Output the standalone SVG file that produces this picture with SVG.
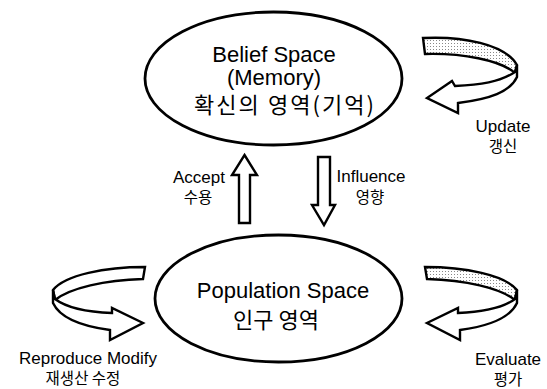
<svg xmlns="http://www.w3.org/2000/svg" width="547" height="389" viewBox="0 0 547 389">
<style>
.ell{fill:#fff;stroke:#000;stroke-width:2.8}
.arr{fill:#fff;stroke:#000;stroke-width:2.4;stroke-linejoin:miter}
.dot{fill:url(#dots);stroke:#000;stroke-width:2.4}
.t{font-family:"Liberation Sans","Noto Sans CJK KR",sans-serif;fill:#000;text-anchor:middle}
.big{font-size:22px}
.sm{font-size:17px}
.ko{font-family:"Noto Sans CJK KR","Liberation Sans",sans-serif}
.ks{font-size:15.5px}
</style>
<defs>
<pattern id="dots" width="3" height="3" patternUnits="userSpaceOnUse">
<rect width="3" height="3" fill="#fff"/>
<rect x="1" y="1" width="1" height="1" fill="#888"/>
</pattern>
</defs>
<g id="connectors">
<g id="update-loop">
<path class="dot" d="M423,38 C462,36 505,44 517,65 L515,73 C500,60 462,53 425,54 Z"/>
<path class="arr" d="M517,65 L517,77 C510,92 490,99 458,103 L458,113 L427,98 L452,81 L455,86 C480,85 500,82 515,72 Z"/>
</g>
<g id="evaluate-loop">
<path class="dot" d="M425,267 C465,267 505,275 517,290 L515,300 C500,288 465,280 427,279 Z"/>
<path class="arr" d="M517,290 L517,303 C510,318 490,326 460,330 L460,340 L427,323 L458,308 L458,313 C485,312 503,308 515,299 Z"/>
</g>
<g id="reproduce-loop" transform="translate(570,0) scale(-1,1)">
<path class="arr" d="M425,267 C465,267 505,275 517,290 L515,300 C500,288 465,280 427,279 Z"/>
<path class="arr" d="M517,290 L517,303 C510,318 490,326 460,330 L460,340 L427,323 L458,308 L458,313 C485,312 503,308 515,299 Z"/>
</g>
<path id="accept-arrow" class="arr" d="M244.5,155 L257,175 L250,175 L250,223 L239,223 L239,175 L232,175 Z"/>
<path id="influence-arrow" class="arr" d="M318,157 L330,157 L330,205 L335,205 L324,225 L312,205 L318,205 Z"/>
<g id="labels">
<text class="t sm" x="199" y="183">Accept</text>
<text class="t ko ks" x="198" y="203">수용</text>
<text class="t sm" x="371" y="182">Influence</text>
<text class="t ko ks" x="370" y="203">영향</text>
<text class="t sm" x="503" y="132">Update</text>
<text class="t ko ks" x="503" y="152">갱신</text>
<text class="t sm" x="508" y="365">Evaluate</text>
<text class="t ko ks" x="508" y="385">평가</text>
<text class="t sm" x="88" y="364">Reproduce Modify</text>
<text class="t ko ks" x="83" y="384">재생산 수정</text>
</g>
</g>
<g id="belief-space">
<ellipse class="ell" cx="273.5" cy="78.5" rx="128.5" ry="66.5"/>
<text class="t big" x="274" y="62">Belief Space</text>
<text class="t big" x="274" y="85">(Memory)</text>
<text class="t big ko" x="284" y="113" textLength="180" lengthAdjust="spacing">확신의 영역(기억)</text>
</g>
<g id="population-space">
<ellipse class="ell" cx="278.5" cy="298.5" rx="123.5" ry="63.5"/>
<text class="t big" x="283" y="298" font-size="23.5">Population Space</text>
<text class="t big ko" x="276" y="328">인구 영역</text>
</g>
</svg>
